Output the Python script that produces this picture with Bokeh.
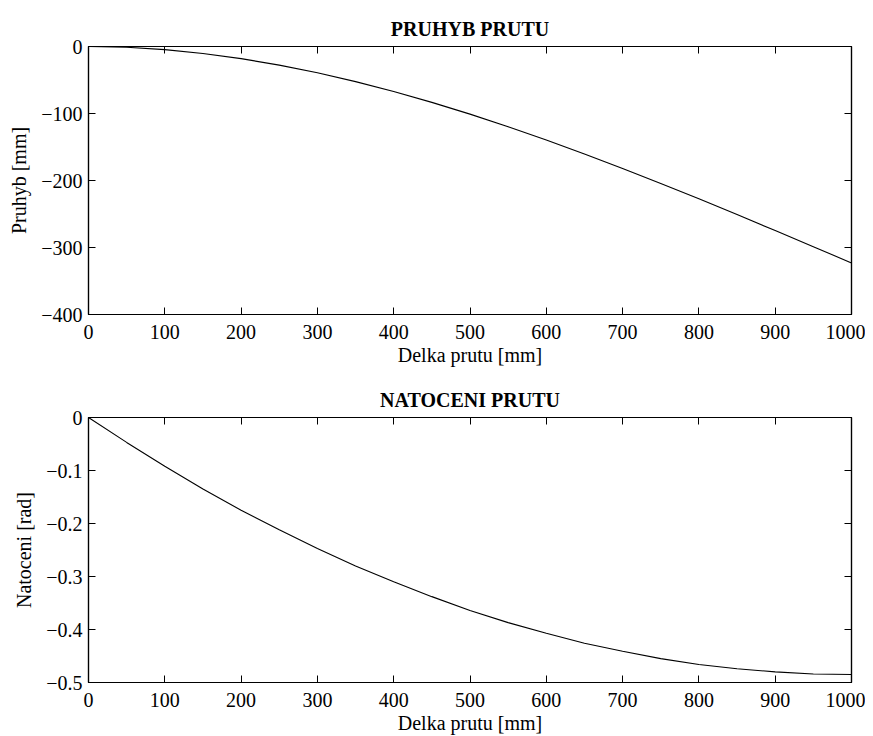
from bokeh.plotting import figure
from bokeh.layouts import column
from bokeh.models import Range1d, LinearAxis, FixedTicker
from bokeh.embed import file_html
from bokeh.resources import INLINE

# ---- data ----
x_mm = [0, 50, 100, 150, 200, 250, 300, 350, 400, 450, 500,
        550, 600, 650, 700, 750, 800, 850, 900, 950, 1000]
pruhyb = [0, -1.2, -4.7, -10.4, -18.1, -27.8, -39.2, -52.4, -67.2, -83.4, -100.9,
          -119.7, -139.5, -160.3, -182.0, -204.4, -227.4, -250.9, -274.7, -298.8, -323.0]
natoceni = [0, -0.047, -0.092, -0.135, -0.175, -0.212, -0.247, -0.280, -0.310, -0.338, -0.364,
            -0.387, -0.407, -0.426, -0.441, -0.455, -0.466, -0.474, -0.480, -0.484, -0.485]

x_ticks = [0, 100, 200, 300, 400, 500, 600, 700, 800, 900, 1000]
y1_ticks = [0, -100, -200, -300, -400]
y1_labels = ["0", "\u2212100", "\u2212200", "\u2212300", "\u2212400"]
y2_ticks = [0, -0.1, -0.2, -0.3, -0.4, -0.5]
y2_labels = ["0", "\u22120.1", "\u22120.2", "\u22120.3", "\u22120.4", "\u22120.5"]

title1 = "PRUHYB PRUTU"
title2 = "NATOCENI PRUTU"
xlabel = "Delka prutu [mm]"
ylabel1 = "Pruhyb [mm]"
ylabel2 = "Natoceni [rad]"

FONT = "Liberation Serif"
FS = "20px"


def style_axis(ax):
    ax.axis_line_color = "black"
    ax.axis_line_width = 1.2
    ax.major_tick_line_color = "black"
    ax.major_tick_line_width = 1
    ax.major_tick_in = 7
    ax.major_tick_out = 0
    ax.minor_tick_line_color = None
    ax.major_label_text_font = FONT
    ax.major_label_text_color = "black"
    ax.major_label_text_font_size = FS
    ax.major_label_standoff = 6
    ax.axis_label_text_font = FONT
    ax.axis_label_text_font_style = "normal"
    ax.axis_label_text_font_size = FS
    ax.axis_label_text_color = "black"


def make_fig(ys, yt, ylabs, yr, title, ylabel, height, top, bottom):
    p = figure(width=865, height=height, output_backend="svg", toolbar_location=None,
               x_range=Range1d(0, 1000), y_range=Range1d(*yr),
               min_border_left=88, min_border_right=14,
               min_border_top=top, min_border_bottom=bottom)
    p.title.text = title
    p.title.align = "center"
    p.title.text_font = FONT
    p.title.text_font_size = FS
    p.title.text_font_style = "bold"
    p.title.text_color = "black"
    p.title.standoff = 13
    p.grid.visible = False
    p.outline_line_color = "black"
    p.outline_line_width = 1.2
    p.background_fill_color = "white"
    p.border_fill_color = "white"

    p.xaxis.ticker = FixedTicker(ticks=x_ticks)
    p.yaxis.ticker = FixedTicker(ticks=yt)
    p.yaxis.major_label_overrides = {t: l for t, l in zip(yt, ylabs)}
    p.xaxis.axis_label = xlabel
    p.yaxis.axis_label = ylabel
    for ax in p.xaxis + p.yaxis:
        style_axis(ax)
    p.xaxis.major_label_standoff = 10
    p.xaxis.axis_label_standoff = 2
    p.yaxis.axis_label_standoff = 8

    top_ax = LinearAxis(ticker=FixedTicker(ticks=x_ticks),
                        major_label_overrides={t: "" for t in x_ticks})
    right_ax = LinearAxis(ticker=FixedTicker(ticks=yt),
                          major_label_overrides={t: "" for t in yt})
    style_axis(top_ax)
    style_axis(right_ax)
    top_ax.major_label_standoff = 0
    right_ax.major_label_standoff = 0
    p.add_layout(top_ax, "above")
    p.add_layout(right_ax, "right")

    p.line(x_mm, ys, line_color="black", line_width=1.1)
    return p


p1 = make_fig(pruhyb, y1_ticks, y1_labels, (-400, 0), title1, ylabel1, 378, 46, 64)
p2 = make_fig(natoceni, y2_ticks, y2_labels, (-0.5, 0), title2, ylabel2, 358, 39, 53)

layout = column(p1, p2, spacing=0)
open("out.html", "w").write(file_html(layout, INLINE))
